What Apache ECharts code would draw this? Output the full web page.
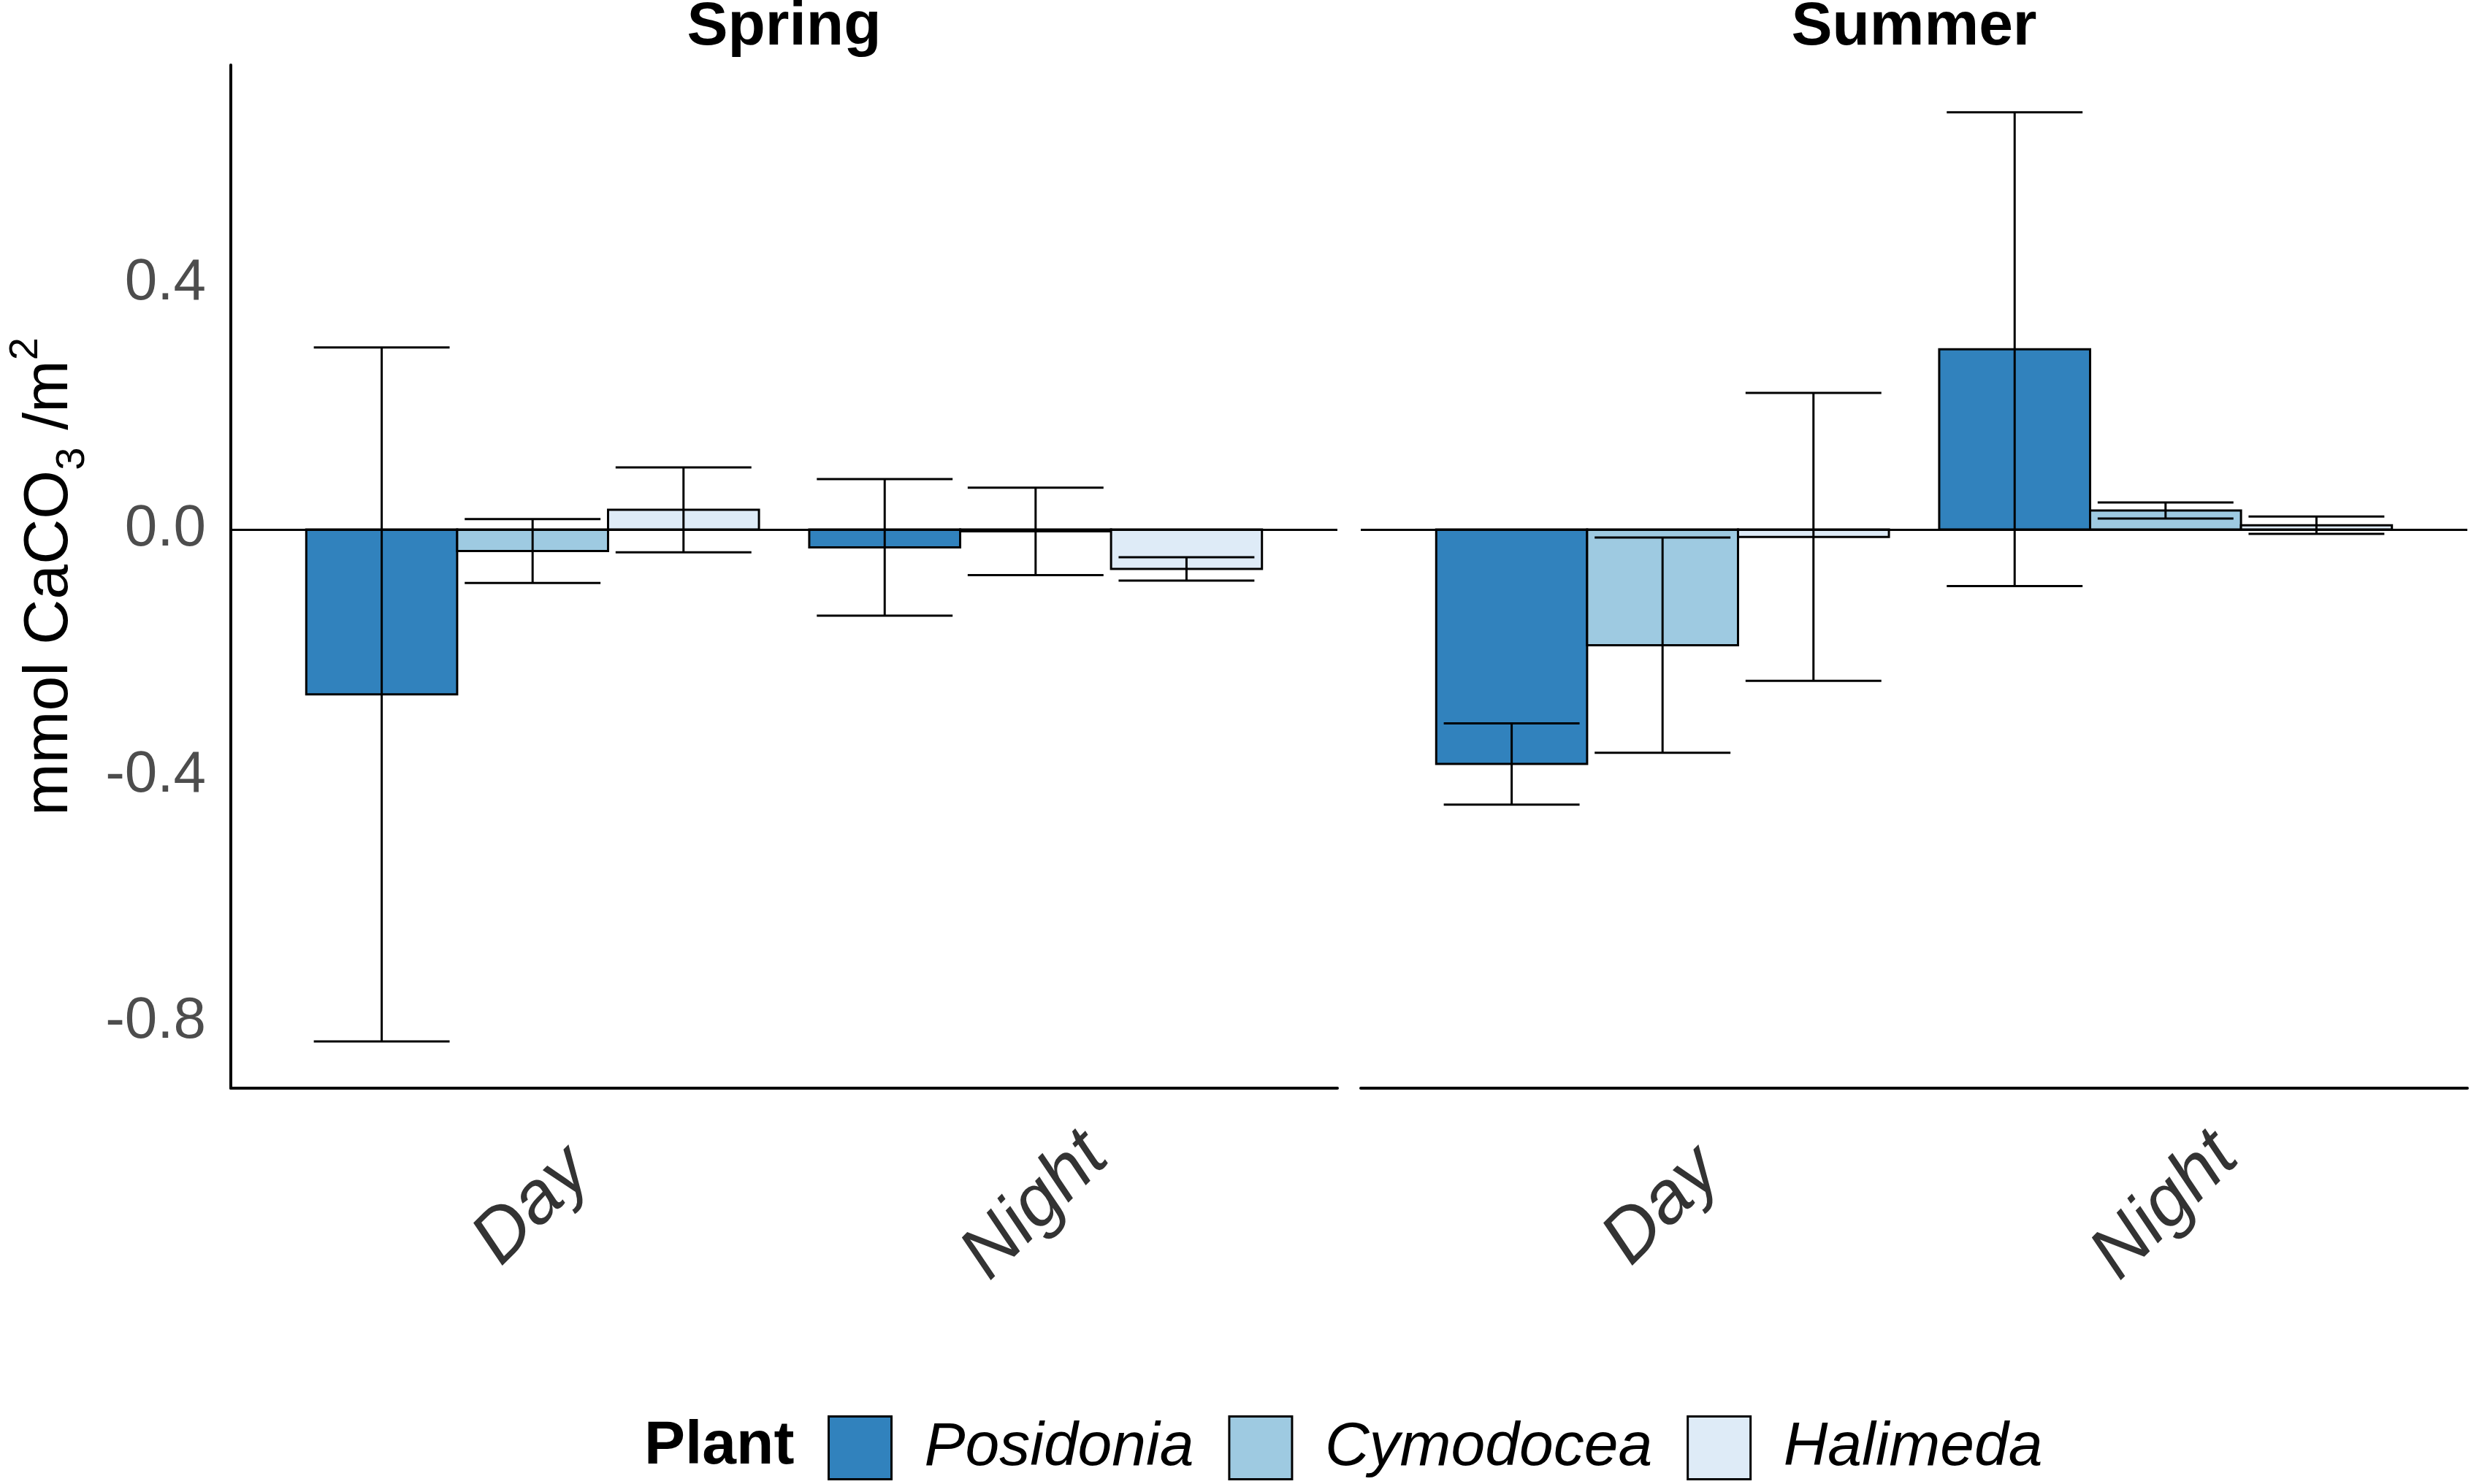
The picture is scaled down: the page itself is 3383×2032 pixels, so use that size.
<!DOCTYPE html>
<html>
<head>
<meta charset="utf-8">
<script src="https://cdn.jsdelivr.net/npm/echarts@6/dist/echarts.min.js"></script>
<style>
  html, body { margin: 0; padding: 0; background: #fff; }
  #chart { width: 3383px; height: 2032px; }
</style>
</head>
<body>
<div id="chart"></div>
<script>
// facets, x categories and fill groups
const seasons = ["Spring", "Summer"];
const times = ["Day", "Night"];
const plants = ["Posidonia", "Cymodocea", "Halimeda"];
const plantColors = ["#3182bd", "#9ecae1", "#deebf7"];

// mean and error, order: Spring Day, Spring Night, Summer Day, Summer Night
const posidoniaMean = [-0.268, -0.029, -0.381, 0.293];
const posidoniaErr = [0.564, 0.111, 0.066, 0.385];
const cymodoceaMean = [-0.035, -0.003, -0.188, 0.031];
const cymodoceaErr = [0.052, 0.071, 0.175, 0.013];
const halimedaMean = [0.032, -0.064, -0.012, 0.007];
const halimedaErr = [0.069, 0.019, 0.234, 0.014];

const yTicks = [-0.8, -0.4, 0.0, 0.4];

const FONT = "Liberation Sans";
const BAR_W = 0.3;   // dodge width 0.9 split over 3 plants
const CAP_W = 0.27;
const LW = 3;

const means = [posidoniaMean, cymodoceaMean, halimedaMean];
const errs = [posidoniaErr, cymodoceaErr, halimedaErr];

function makeRender(offset, color) {
  return function (params, api) {
    const x = api.value(0) + offset;
    const m = api.value(1);
    const e = api.value(2);
    const a = api.coord([x - BAR_W / 2, m]);
    const b = api.coord([x + BAR_W / 2, 0]);
    const hi = api.coord([x, m + e]);
    const lo = api.coord([x, m - e]);
    const cl = api.coord([x - CAP_W / 2, 0])[0];
    const cr = api.coord([x + CAP_W / 2, 0])[0];
    const line = { stroke: "#000", lineWidth: LW };
    return {
      type: "group",
      children: [
        {
          type: "rect",
          shape: { x: a[0], y: Math.min(a[1], b[1]), width: b[0] - a[0], height: Math.abs(b[1] - a[1]) },
          style: { fill: color, stroke: "#000", lineWidth: LW }
        },
        { type: "line", shape: { x1: hi[0], y1: hi[1], x2: lo[0], y2: lo[1] }, style: line },
        { type: "line", shape: { x1: cl, y1: hi[1], x2: cr, y2: hi[1] }, style: line },
        { type: "line", shape: { x1: cl, y1: lo[1], x2: cr, y2: lo[1] }, style: line }
      ]
    };
  };
}

const panelLeft = [316, 1863];
const panelW = 1515;
const panelTop = 89;
const panelH = 1401;

const grids = seasons.map((s, i) => ({
  left: panelLeft[i], top: panelTop, width: panelW, height: panelH,
  outerBoundsMode: "none"
}));

const xAxes = seasons.map((s, i) => ({
  type: "value",
  gridIndex: i,
  min: 0.4,
  max: 2.6,
  splitLine: { show: false },
  axisTick: { show: false },
  axisLine: { show: true, onZero: false, lineStyle: { color: "#000", width: 4 } },
  axisLabel: {
    customValues: [1, 2],
    formatter: v => times[Math.round(v) - 1] || "",
    rotate: 45,
    align: "center",
    verticalAlign: "middle",
    margin: 162,
    fontSize: 101,
    fontStyle: "italic",
    fontFamily: FONT,
    color: "#333"
  }
}));

const yAxes = seasons.map((s, i) => ({
  type: "value",
  gridIndex: i,
  min: -0.908,
  max: 0.755,
  splitLine: { show: false },
  axisTick: { show: false },
  axisLine: { show: i === 0, lineStyle: { color: "#000", width: 4 } },
  axisLabel: {
    show: i === 0,
    customValues: yTicks,
    formatter: v => v.toFixed(1),
    fontSize: 80,
    fontFamily: FONT,
    color: "#4d4d4d",
    margin: 34
  },
  name: i === 0 ? "{n|mmol CaCO}{sub|3}{n| /m}{sup|2}" : "",
  nameLocation: "middle",
  nameRotate: 90,
  nameGap: 188,
  nameTextStyle: {
    color: "#000",
    fontFamily: FONT,
    fontSize: 86,
    lineHeight: 120,
    rich: {
      n: { fontSize: 86, lineHeight: 120, fontFamily: FONT, color: "#000" },
      sub: { fontSize: 56, lineHeight: 48, verticalAlign: "bottom", fontFamily: FONT, color: "#000" },
      sup: { fontSize: 56, lineHeight: 48, verticalAlign: "top", fontFamily: FONT, color: "#000" }
    }
  }
}));

const series = [];
seasons.forEach((s, si) => {
  plants.forEach((p, pi) => {
    const data = times.map((t, ti) => [ti + 1, means[pi][si * 2 + ti], errs[pi][si * 2 + ti]]);
    const item = {
      type: "custom",
      name: p,
      xAxisIndex: si,
      yAxisIndex: si,
      itemStyle: { color: plantColors[pi], borderColor: "#000", borderWidth: LW },
      renderItem: makeRender((pi - 1) * BAR_W, plantColors[pi]),
      encode: { x: 0, y: 1 },
      data: data,
      z: 2
    };
    if (pi === 0) {
      item.markLine = {
        silent: true,
        symbol: "none",
        label: { show: false },
        lineStyle: { color: "#000", width: LW, type: "solid" },
        data: [{ yAxis: 0 }],
        z: 3
      };
    }
    series.push(item);
  });
});

const chart = echarts.init(document.getElementById("chart"));
chart.setOption({
  animation: false,
  backgroundColor: "#fff",
  title: seasons.map((s, i) => ({
    text: s,
    left: panelLeft[i] + panelW / 2,
    top: -4,
    textAlign: "center",
    padding: 0,
    textStyle: { fontSize: 84, fontWeight: "bold", fontFamily: FONT, color: "#000" }
  })),
  grid: grids,
  xAxis: xAxes,
  yAxis: yAxes,
  legend: {
    left: 1133,
    top: 1938,
    icon: "rect",
    itemWidth: 86,
    itemHeight: 86,
    itemGap: 47,
    padding: 0,
    data: plants.map((p, i) => ({
      name: p,
      itemStyle: { color: plantColors[i], borderColor: "#000", borderWidth: LW }
    })),
    textStyle: {
      fontSize: 84,
      fontStyle: "italic",
      fontFamily: FONT,
      color: "#000",
      padding: [0, 0, 0, 40]
    }
  },
  graphic: [{
    type: "text",
    x: 882,
    y: 1981,
    style: {
      text: "Plant",
      font: "bold 84px " + FONT,
      fill: "#000",
      align: "left",
      verticalAlign: "middle"
    }
  }],
  series: series
});
</script>
</body>
</html>
